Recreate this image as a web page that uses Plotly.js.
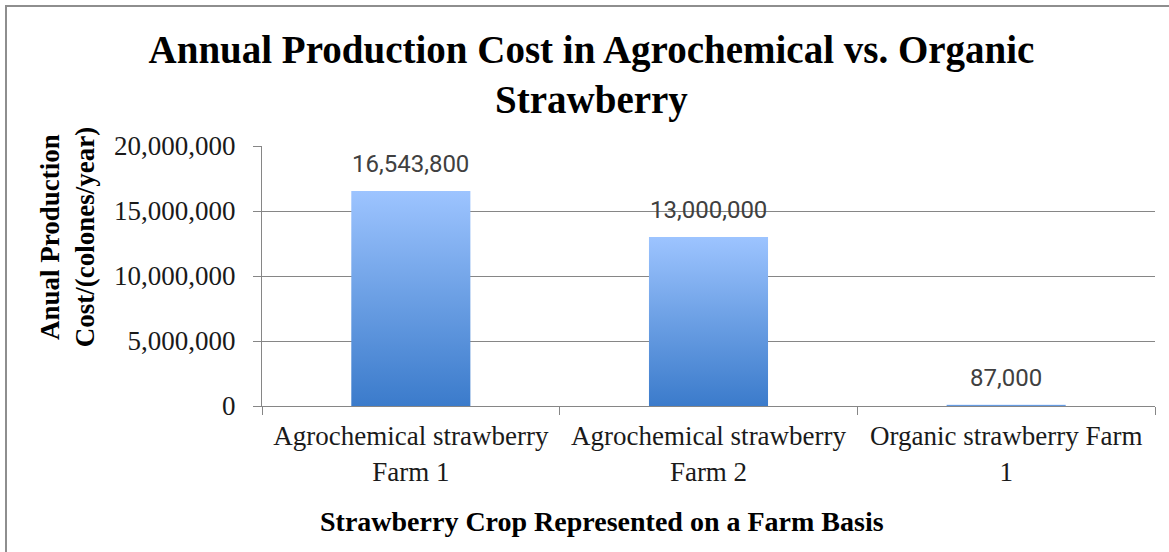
<!DOCTYPE html>
<html>
<head>
<meta charset="utf-8">
<script src="https://cdn.plot.ly/plotly-3.0.1.min.js"></script>
<style>
  html, body { margin: 0; padding: 0; overflow: hidden; background: #fff; }
  #frame { position: absolute; left: 5px; top: 5px; width: 1200px; height: 600px;
           border-left: 2px solid #8e8e8e; border-top: 2px solid #8e8e8e; }
  #chart { width: 1162px; height: 545px; }
</style>
</head>
<body>
<div id="frame"><div id="chart"></div></div>
<script>
const categories = ["Agrochemical strawberry<br>Farm 1", "Agrochemical strawberry<br>Farm 2", "Organic strawberry Farm<br>1"];
const values = [16543800, 13000000, 87000];
const yTicks = [0, 5000000, 10000000, 15000000, 20000000];

const serif = "Liberation Serif, Times New Roman, serif";
const barHalf = 0.2;

const traces = [];
// invisible bar trace anchors the category axis
traces.push({
  type: "bar", x: categories, y: values, xaxis: "x", yaxis: "y",
  marker: {color: "rgba(0,0,0,0)"}, hoverinfo: "skip", showlegend: false
});
// gradient bars drawn as filled polygons on an overlaid linear axis
values.forEach(function (v, i) {
  traces.push({
    type: "scatter", mode: "lines", xaxis: "x2", yaxis: "y",
    x: [i - barHalf, i + barHalf, i + barHalf, i - barHalf, i - barHalf],
    y: [0, 0, v, v, 0],
    fill: "toself",
    line: {width: 0, color: "rgba(0,0,0,0)"},
    fillgradient: {type: "vertical", colorscale: [[0, "#3b7bcb"], [0.5, "#6b9fe4"], [1, "#9dc4ff"]]},
    hoverinfo: "skip", showlegend: false
  });
});

const annotations = values.map(function (v, i) {
  return {
    xref: "x2", yref: "y", x: i, y: v, text: v.toLocaleString("en-US"),
    showarrow: false, yanchor: "bottom", yshift: 11,
    font: {family: "Roboto, Liberation Sans, sans-serif", size: 24, color: "#404040"}
  };
});
annotations.push({
  xref: "paper", yref: "paper", x: -0.218, y: 0.65, textangle: -90,
  text: "Anual Production<br>Cost/(colones/year)", showarrow: false,
  xanchor: "center", yanchor: "middle",
  font: {family: serif, size: 27, color: "#000", weight: "bold"}
});
annotations.push({
  xref: "paper", yref: "paper", x: 0.381, y: -0.446,
  text: "Strawberry Crop Represented on a Farm Basis", showarrow: false,
  xanchor: "center", yanchor: "middle",
  font: {family: serif, size: 28, color: "#000", weight: "bold"}
});

const layout = {
  width: 1162, height: 545,
  margin: {l: 255, r: 14, t: 139, b: 146},
  paper_bgcolor: "#fff", plot_bgcolor: "#fff",
  showlegend: false,
  title: {
    text: "Annual Production Cost in Agrochemical vs. Organic<br>Strawberry",
    xref: "container", yref: "container", x: 0.503, y: 0.898, xanchor: "center", yanchor: "top",
    font: {family: serif, size: 39, color: "#000", weight: "bold"}
  },
  xaxis: {
    type: "category", categoryarray: categories, range: [-0.5, 2.5],
    tickson: "boundaries", ticks: "outside", ticklen: 8, tickcolor: "#868686", tickwidth: 1,
    showline: true, linecolor: "#868686", linewidth: 1,
    showgrid: false, zeroline: false,
    tickfont: {family: serif, size: 27, color: "#1a1a1a"},
    ticklabelstandoff: 6
  },
  xaxis2: {overlaying: "x", range: [-0.5, 2.5], visible: false, fixedrange: true},
  yaxis: {
    range: [0, 20000000], tickvals: yTicks, tickformat: ",d",
    ticks: "outside", ticklen: 8, tickcolor: "#868686", tickwidth: 1,
    showline: true, linecolor: "#868686", linewidth: 1,
    showgrid: true, gridcolor: "#868686", gridwidth: 1, zeroline: false,
    tickfont: {family: serif, size: 27, color: "#1a1a1a"},
    ticklabelstandoff: 12
  },
  annotations: annotations
};

Plotly.newPlot("chart", traces, layout, {displayModeBar: false, staticPlot: true});
</script>
</body>
</html>
